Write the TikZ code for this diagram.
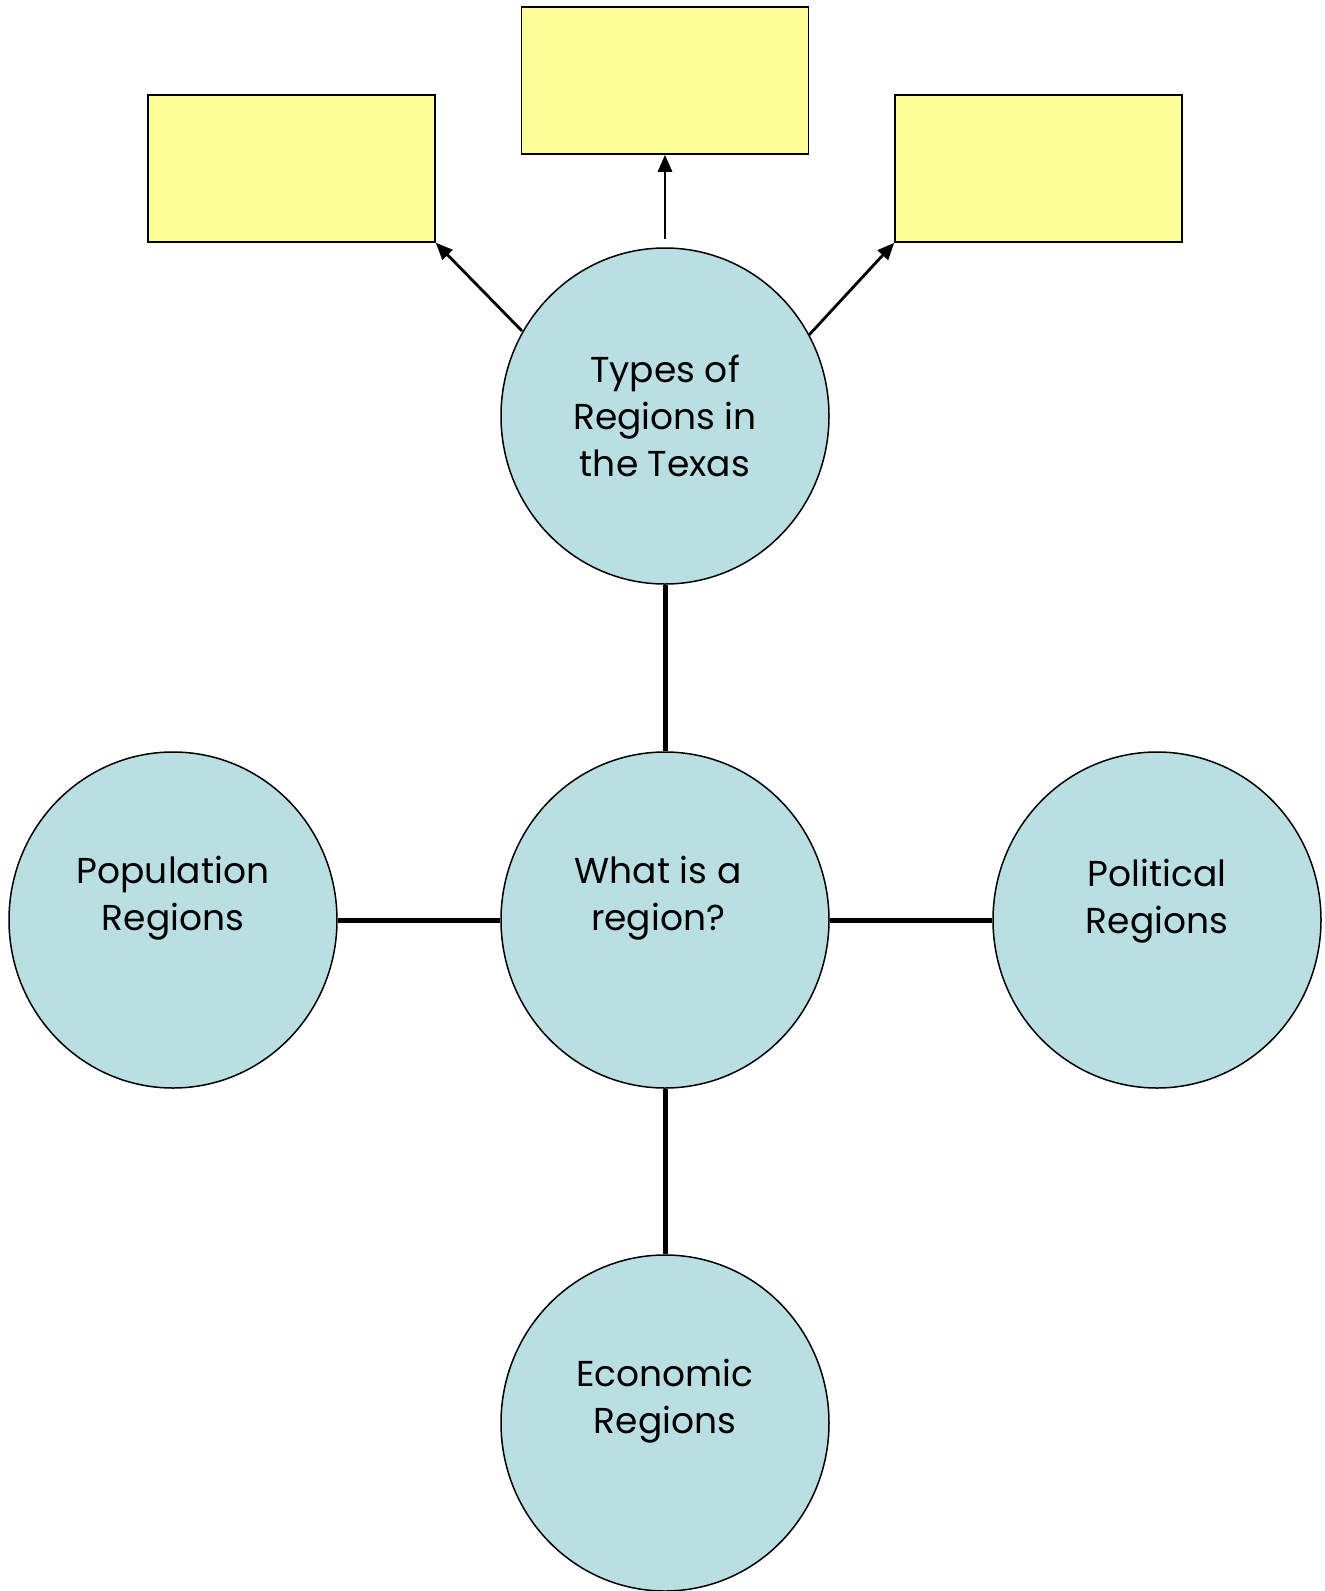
\documentclass[tikz,border=0pt]{standalone}
\usepackage{fontspec}
\setmainfont{Poppins}
\usetikzlibrary{shapes.geometric,arrows.meta}
\definecolor{circfill}{RGB}{185,223,227}
\definecolor{boxfill}{RGB}{255,255,153}
\begin{document}
\begin{tikzpicture}[x=0.5pt,y=-0.5pt,
  bubble/.style={ellipse,draw=black,line width=0.75pt,fill=circfill,minimum width=164pt,minimum height=168pt,inner sep=0pt},
  txt/.style={align=center,font=\fontsize{18pt}{23.3pt}\selectfont,inner sep=0pt},
  yellowbox/.style={rectangle,draw=black,line width=0.75pt,fill=boxfill,minimum width=143.5pt,minimum height=73.5pt,inner sep=0pt},
  thick link/.style={line width=2.5pt},
  arr/.style={line width=1.4pt,-{Triangle[length=8.5pt,width=7pt]}}]
\useasboundingbox (0,0) rectangle (1324,1591);
\node[bubble] (types) at (665,416) {};
\node[bubble] (what) at (665,920) {};
\node[bubble] (pop) at (173,920) {};
\node[bubble] (pol) at (1157,920) {};
\node[bubble] (eco) at (665,1423) {};
\node[txt] (typest) at (665,416) {Types of\\Regions in\\the Texas};
\node[txt] (whatt) at (658,898) {What is a\\region?};
\node[txt] (popt) at (173,898) {Population\\Regions};
\node[txt] (polt) at (1157,901) {Political\\Regions};
\node[txt] (ecot) at (665,1401) {Economic\\Regions};
\node[yellowbox] (bl) at (291.5,168.5) {};
\node[yellowbox] (bm) at (665,80.5) {};
\node[yellowbox] (br) at (1038.5,168.5) {};
\coordinate (sm) at (665,239);
\coordinate (sl) at (522,331);
\coordinate (sr) at (809,335);
\draw[arr] (sm) -- (bm.south);
\draw[arr] (sl) -- (bl.south east);
\draw[arr] (sr) -- (br.south west);
\draw[thick link] (types.south) -- (what.north);
\draw[thick link] (what.south) -- (eco.north);
\draw[thick link] (what.west) -- (pop.east);
\draw[thick link] (what.east) -- (pol.west);
\end{tikzpicture}
\end{document}
